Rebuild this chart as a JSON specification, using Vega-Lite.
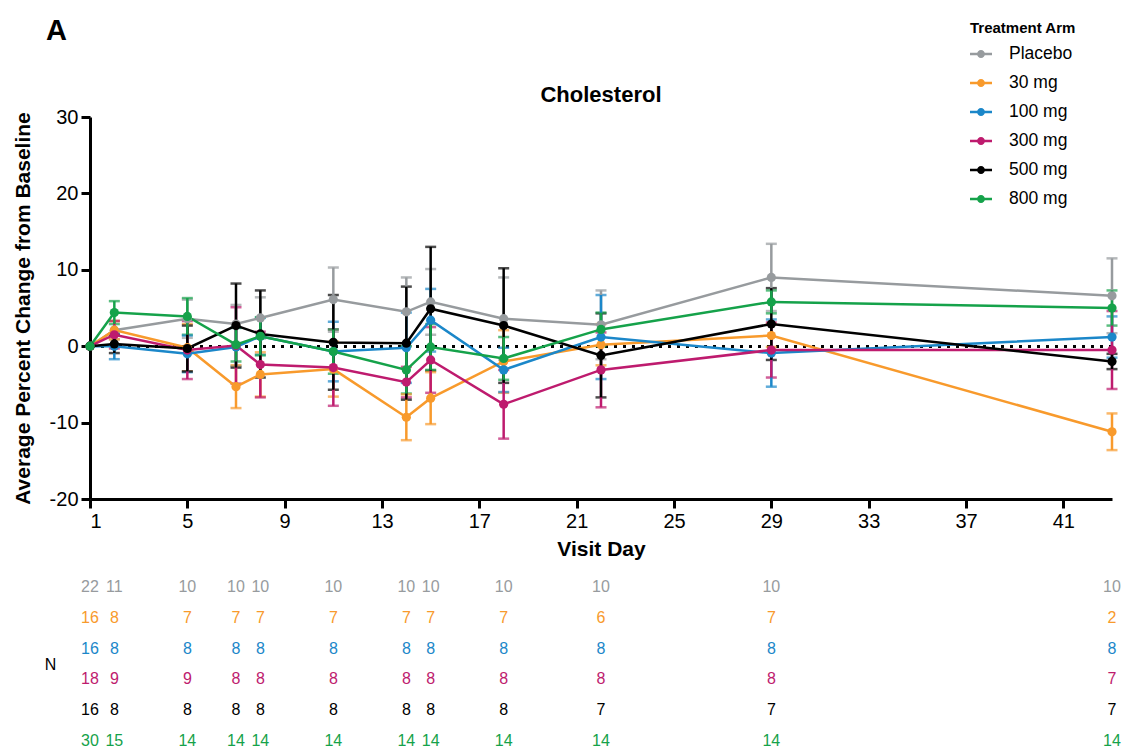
{
  "$schema": "https://vega.github.io/schema/vega-lite/v6.json",
  "padding": {"left": 12, "top": 17, "right": 5, "bottom": 0},
  "background": "white",
  "title": {"text": "A", "anchor": "start", "fontSize": 29, "fontWeight": "bold", "offset": -25, "dx": 34, "color": "black"},
  "config": {
    "font": "Liberation Sans",
    "view": {"stroke": null},
    "axis": {"domainColor": "black", "tickColor": "black", "labelColor": "black", "titleColor": "black", "domainWidth": 3, "tickWidth": 3, "tickSize": 9, "labelFontSize": 20, "titleFontSize": 21, "titleFontWeight": "bold", "grid": false, "labelPadding": 3},
    "legend": {"orient": "none", "legendX": 880, "legendY": -96, "titleFontSize": 15, "titleFontWeight": "bold", "titleColor": "black", "labelFontSize": 17.5, "labelColor": "black", "symbolSize": 484, "symbolOpacity": 1, "rowPadding": 9, "labelOffset": 17, "titlePadding": 7, "symbolStrokeWidth": 0, "padding": 0}
  },
  "datasets": {
    "d": [
      {"arm": "Placebo", "day": 1, "mean": 0, "lo": 0, "hi": 0, "n": 22},
      {"arm": "Placebo", "day": 2, "mean": 2.1, "lo": 0.9, "hi": 3.3, "n": 11},
      {"arm": "Placebo", "day": 5, "mean": 3.6, "lo": 1.1, "hi": 6.1, "n": 10},
      {"arm": "Placebo", "day": 7, "mean": 2.9, "lo": 0.4, "hi": 5.4, "n": 10},
      {"arm": "Placebo", "day": 8, "mean": 3.7, "lo": 1.0, "hi": 6.4, "n": 10},
      {"arm": "Placebo", "day": 11, "mean": 6.1, "lo": 1.9, "hi": 10.3, "n": 10},
      {"arm": "Placebo", "day": 14, "mean": 4.5, "lo": 0.0, "hi": 9.0, "n": 10},
      {"arm": "Placebo", "day": 15, "mean": 5.8, "lo": 1.5, "hi": 10.1, "n": 10},
      {"arm": "Placebo", "day": 18, "mean": 3.6, "lo": -1.8, "hi": 9.0, "n": 10},
      {"arm": "Placebo", "day": 22, "mean": 2.8, "lo": -1.7, "hi": 7.3, "n": 10},
      {"arm": "Placebo", "day": 29, "mean": 9.0, "lo": 4.6, "hi": 13.4, "n": 10},
      {"arm": "Placebo", "day": 43, "mean": 6.6, "lo": 1.7, "hi": 11.5, "n": 10},
      {"arm": "30 mg", "day": 1, "mean": 0, "lo": 0, "hi": 0, "n": 16},
      {"arm": "30 mg", "day": 2, "mean": 2.1, "lo": 0.9, "hi": 3.3, "n": 8},
      {"arm": "30 mg", "day": 5, "mean": -0.2, "lo": -3.3, "hi": 2.9, "n": 7},
      {"arm": "30 mg", "day": 7, "mean": -5.3, "lo": -8.1, "hi": -2.5, "n": 7},
      {"arm": "30 mg", "day": 8, "mean": -3.7, "lo": -6.6, "hi": -0.8, "n": 7},
      {"arm": "30 mg", "day": 11, "mean": -3.0, "lo": -6.6, "hi": 0.6, "n": 7},
      {"arm": "30 mg", "day": 14, "mean": -9.3, "lo": -12.3, "hi": -6.3, "n": 7},
      {"arm": "30 mg", "day": 15, "mean": -6.8, "lo": -10.2, "hi": -3.4, "n": 7},
      {"arm": "30 mg", "day": 18, "mean": -2.0, "lo": -6.1, "hi": 2.1, "n": 7},
      {"arm": "30 mg", "day": 22, "mean": 0.2, "lo": -2.5, "hi": 2.9, "n": 6},
      {"arm": "30 mg", "day": 29, "mean": 1.4, "lo": -0.1, "hi": 2.9, "n": 7},
      {"arm": "30 mg", "day": 43, "mean": -11.2, "lo": -13.6, "hi": -8.8, "n": 2},
      {"arm": "100 mg", "day": 1, "mean": 0, "lo": 0, "hi": 0, "n": 16},
      {"arm": "100 mg", "day": 2, "mean": 0.0, "lo": -1.7, "hi": 1.7, "n": 8},
      {"arm": "100 mg", "day": 5, "mean": -1.0, "lo": -3.4, "hi": 1.4, "n": 8},
      {"arm": "100 mg", "day": 7, "mean": -0.1, "lo": -2.6, "hi": 2.4, "n": 8},
      {"arm": "100 mg", "day": 8, "mean": 1.3, "lo": -1.1, "hi": 3.7, "n": 8},
      {"arm": "100 mg", "day": 11, "mean": -0.7, "lo": -4.6, "hi": 3.2, "n": 8},
      {"arm": "100 mg", "day": 14, "mean": -0.2, "lo": -4.8, "hi": 4.4, "n": 8},
      {"arm": "100 mg", "day": 15, "mean": 3.4, "lo": -0.7, "hi": 7.5, "n": 8},
      {"arm": "100 mg", "day": 18, "mean": -3.1, "lo": -6.0, "hi": -0.2, "n": 8},
      {"arm": "100 mg", "day": 22, "mean": 1.2, "lo": -4.3, "hi": 6.7, "n": 8},
      {"arm": "100 mg", "day": 29, "mean": -0.9, "lo": -5.3, "hi": 3.5, "n": 8},
      {"arm": "100 mg", "day": 43, "mean": 1.2, "lo": -1.5, "hi": 3.9, "n": 8},
      {"arm": "300 mg", "day": 1, "mean": 0, "lo": 0, "hi": 0, "n": 18},
      {"arm": "300 mg", "day": 2, "mean": 1.5, "lo": -0.3, "hi": 3.3, "n": 9},
      {"arm": "300 mg", "day": 5, "mean": -0.5, "lo": -4.3, "hi": 3.3, "n": 9},
      {"arm": "300 mg", "day": 7, "mean": 0.1, "lo": -4.9, "hi": 5.1, "n": 8},
      {"arm": "300 mg", "day": 8, "mean": -2.4, "lo": -6.7, "hi": 1.9, "n": 8},
      {"arm": "300 mg", "day": 11, "mean": -2.8, "lo": -7.8, "hi": 2.2, "n": 8},
      {"arm": "300 mg", "day": 14, "mean": -4.7, "lo": -6.7, "hi": -2.7, "n": 8},
      {"arm": "300 mg", "day": 15, "mean": -1.8, "lo": -6.1, "hi": 2.5, "n": 8},
      {"arm": "300 mg", "day": 18, "mean": -7.6, "lo": -12.1, "hi": -3.1, "n": 8},
      {"arm": "300 mg", "day": 22, "mean": -3.1, "lo": -8.0, "hi": 1.8, "n": 8},
      {"arm": "300 mg", "day": 29, "mean": -0.5, "lo": -4.1, "hi": 3.1, "n": 8},
      {"arm": "300 mg", "day": 43, "mean": -0.5, "lo": -5.6, "hi": 4.6, "n": 7},
      {"arm": "500 mg", "day": 1, "mean": 0, "lo": 0, "hi": 0, "n": 16},
      {"arm": "500 mg", "day": 2, "mean": 0.3, "lo": -0.9, "hi": 1.5, "n": 8},
      {"arm": "500 mg", "day": 5, "mean": -0.3, "lo": -3.3, "hi": 2.7, "n": 8},
      {"arm": "500 mg", "day": 7, "mean": 2.7, "lo": -2.8, "hi": 8.2, "n": 8},
      {"arm": "500 mg", "day": 8, "mean": 1.6, "lo": -4.1, "hi": 7.3, "n": 8},
      {"arm": "500 mg", "day": 11, "mean": 0.5, "lo": -5.7, "hi": 6.7, "n": 8},
      {"arm": "500 mg", "day": 14, "mean": 0.4, "lo": -7.0, "hi": 7.8, "n": 8},
      {"arm": "500 mg", "day": 15, "mean": 4.9, "lo": -3.2, "hi": 13.0, "n": 8},
      {"arm": "500 mg", "day": 18, "mean": 2.7, "lo": -4.8, "hi": 10.2, "n": 8},
      {"arm": "500 mg", "day": 22, "mean": -1.2, "lo": -6.7, "hi": 4.3, "n": 7},
      {"arm": "500 mg", "day": 29, "mean": 2.9, "lo": -1.8, "hi": 7.6, "n": 7},
      {"arm": "500 mg", "day": 43, "mean": -2.0, "lo": -3.0, "hi": -1.0, "n": 7},
      {"arm": "800 mg", "day": 1, "mean": 0, "lo": 0, "hi": 0, "n": 30},
      {"arm": "800 mg", "day": 2, "mean": 4.4, "lo": 2.9, "hi": 5.9, "n": 15},
      {"arm": "800 mg", "day": 5, "mean": 3.9, "lo": 1.5, "hi": 6.3, "n": 14},
      {"arm": "800 mg", "day": 7, "mean": 0.2, "lo": -2.0, "hi": 2.4, "n": 14},
      {"arm": "800 mg", "day": 8, "mean": 1.3, "lo": -1.2, "hi": 3.8, "n": 14},
      {"arm": "800 mg", "day": 11, "mean": -0.7, "lo": -3.6, "hi": 2.2, "n": 14},
      {"arm": "800 mg", "day": 14, "mean": -3.1, "lo": -6.2, "hi": 0.0, "n": 14},
      {"arm": "800 mg", "day": 15, "mean": -0.1, "lo": -3.1, "hi": 2.9, "n": 14},
      {"arm": "800 mg", "day": 18, "mean": -1.6, "lo": -4.4, "hi": 1.2, "n": 14},
      {"arm": "800 mg", "day": 22, "mean": 2.2, "lo": 0.0, "hi": 4.4, "n": 14},
      {"arm": "800 mg", "day": 29, "mean": 5.8, "lo": 4.3, "hi": 7.3, "n": 14},
      {"arm": "800 mg", "day": 43, "mean": 5.0, "lo": 2.7, "hi": 7.3, "n": 14}
    ]
  },
  "data": {"name": "d"},
  "vconcat": [
    {
      "width": 1022,
      "height": 382,
      "title": {"text": "Cholesterol", "fontSize": 22, "fontWeight": "bold", "color": "black", "offset": 0},
      "layer": [
        {
          "mark": {"type": "rule", "strokeDash": [2.5, 6.5], "strokeWidth": 2.5, "color": "black"},
          "encoding": {"y": {"datum": 0}}
        },
        {
          "transform": [{"filter": "datum.day > 1"}],
          "mark": {"type": "errorbar", "ticks": {"size": 11, "thickness": 2.5}, "rule": {"strokeWidth": 2.5}},
          "encoding": {
            "x": {"field": "day", "type": "quantitative", "scale": {"domain": [1, 43], "nice": false, "zero": false}, "axis": {"values": [1, 5, 9, 13, 17, 21, 25, 29, 33, 37, 41], "title": "Visit Day", "titlePadding": 7}},
            "y": {"field": "lo", "type": "quantitative", "scale": {"domain": [-20, 30], "nice": false, "zero": false}, "axis": {"values": [-20, -10, 0, 10, 20, 30], "labelExpr": "datum.value < 0 ? '-' + abs(datum.value) : '' + datum.value", "title": "Average Percent Change from Baseline", "titlePadding": 16}},
            "y2": {"field": "hi"},
            "color": {"field": "arm", "type": "nominal", "scale": {"domain": ["Placebo", "30 mg", "100 mg", "300 mg", "500 mg", "800 mg"], "range": ["#979B9E", "#F89A2C", "#1B87C9", "#BE1B6E", "#000000", "#15A24A"]}, "legend": {"title": "Treatment  Arm", "symbolType": "M-1,-0.11L1,-0.11L1,0.11L-1,0.11Z M-0.36,0A0.36,0.36,0,1,1,0.36,0A0.36,0.36,0,1,1,-0.36,0Z"}}
          }
        },
        {
          "mark": {"type": "line", "strokeWidth": 2.5},
          "encoding": {
            "x": {"field": "day", "type": "quantitative", "scale": {"domain": [1, 43], "nice": false, "zero": false}, "axis": {"values": [1, 5, 9, 13, 17, 21, 25, 29, 33, 37, 41], "title": "Visit Day", "titlePadding": 7}},
            "y": {"field": "mean", "type": "quantitative", "scale": {"domain": [-20, 30], "nice": false, "zero": false}, "axis": {"values": [-20, -10, 0, 10, 20, 30], "labelExpr": "datum.value < 0 ? '-' + abs(datum.value) : '' + datum.value", "title": "Average Percent Change from Baseline", "titlePadding": 16}},
            "color": {"field": "arm", "type": "nominal", "scale": {"domain": ["Placebo", "30 mg", "100 mg", "300 mg", "500 mg", "800 mg"], "range": ["#979B9E", "#F89A2C", "#1B87C9", "#BE1B6E", "#000000", "#15A24A"]}, "legend": {"title": "Treatment  Arm", "symbolType": "M-1,-0.11L1,-0.11L1,0.11L-1,0.11Z M-0.36,0A0.36,0.36,0,1,1,0.36,0A0.36,0.36,0,1,1,-0.36,0Z"}}
          }
        },
        {
          "mark": {"type": "point", "filled": true, "size": 85, "opacity": 1},
          "encoding": {
            "x": {"field": "day", "type": "quantitative", "scale": {"domain": [1, 43], "nice": false, "zero": false}, "axis": {"values": [1, 5, 9, 13, 17, 21, 25, 29, 33, 37, 41], "title": "Visit Day", "titlePadding": 7}},
            "y": {"field": "mean", "type": "quantitative", "scale": {"domain": [-20, 30], "nice": false, "zero": false}, "axis": {"values": [-20, -10, 0, 10, 20, 30], "labelExpr": "datum.value < 0 ? '-' + abs(datum.value) : '' + datum.value", "title": "Average Percent Change from Baseline", "titlePadding": 16}},
            "color": {"field": "arm", "type": "nominal", "scale": {"domain": ["Placebo", "30 mg", "100 mg", "300 mg", "500 mg", "800 mg"], "range": ["#979B9E", "#F89A2C", "#1B87C9", "#BE1B6E", "#000000", "#15A24A"]}, "legend": {"title": "Treatment  Arm", "symbolType": "M-1,-0.11L1,-0.11L1,0.11L-1,0.11Z M-0.36,0A0.36,0.36,0,1,1,0.36,0A0.36,0.36,0,1,1,-0.36,0Z"}}
          }
        }
      ]
    },
    {
      "width": 1022,
      "height": 184,
      "mark": {"type": "text", "fontSize": 16},
      "encoding": {
        "x": {"field": "day", "type": "quantitative", "scale": {"domain": [1, 43], "nice": false, "zero": false}, "axis": null},
        "y": {"field": "arm", "type": "nominal", "sort": ["Placebo", "30 mg", "100 mg", "300 mg", "500 mg", "800 mg"], "scale": {"paddingInner": 0, "paddingOuter": 0}, "axis": {"title": "N", "labels": false, "ticks": false, "domain": false, "titleAngle": 0, "titleFontWeight": "normal", "titleFontSize": 16, "titlePadding": 40, "titleBaseline": "middle"}},
        "text": {"field": "n", "type": "quantitative"},
        "color": {"field": "arm", "type": "nominal", "scale": {"domain": ["Placebo", "30 mg", "100 mg", "300 mg", "500 mg", "800 mg"], "range": ["#979B9E", "#F89A2C", "#1B87C9", "#BE1B6E", "#000000", "#15A24A"]}, "legend": {"title": "Treatment  Arm", "symbolType": "M-1,-0.11L1,-0.11L1,0.11L-1,0.11Z M-0.36,0A0.36,0.36,0,1,1,0.36,0A0.36,0.36,0,1,1,-0.36,0Z"}}
      }
    }
  ],
  "spacing": 13
}
